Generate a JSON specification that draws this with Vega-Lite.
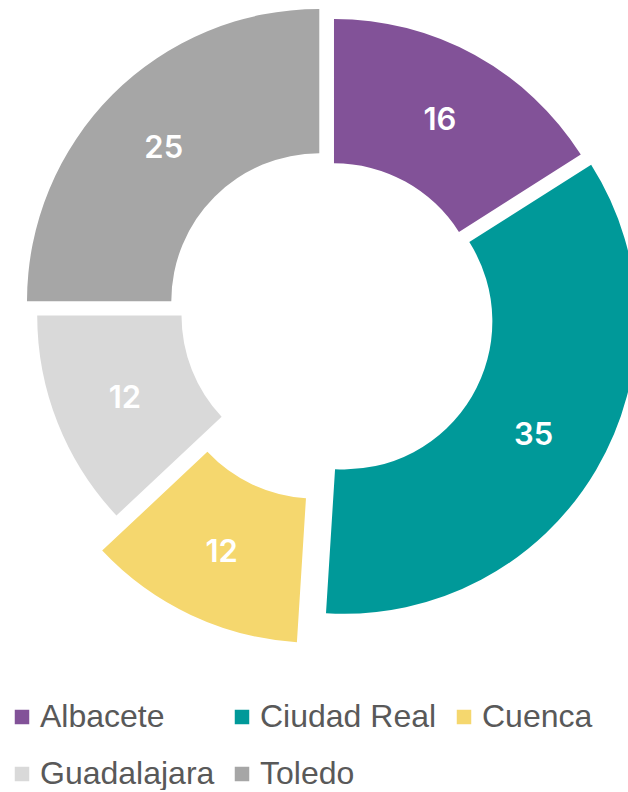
{
  "$schema": "https://vega.github.io/schema/vega-lite/v6.json",
  "width": 628,
  "height": 628,
  "padding": 0,
  "autosize": {"type": "pad"},
  "background": "white",
  "config": {"view": {"stroke": null}},
  "params": [
    {"name": "explode", "value": {"Albacete": 3.5, "Ciudad Real": 14, "Cuenca": 40, "Guadalajara": 3, "Toledo": 18.4}},
    {"name": "cx", "value": 332.3},
    {"name": "cy", "value": 314.3}
  ],
  "data": {
    "values": [
      {"provincia": "Albacete", "valor": 16},
      {"provincia": "Ciudad Real", "valor": 35},
      {"provincia": "Cuenca", "valor": 12},
      {"provincia": "Guadalajara", "valor": 12},
      {"provincia": "Toledo", "valor": 25}
    ]
  },
  "encoding": {
    "theta": {"field": "valor", "type": "quantitative", "stack": true},
    "order": {"field": "provincia", "type": "ordinal", "sort": "ascending"}
  },
  "layer": [
    {
      "mark": {
        "type": "arc",
        "outerRadius": 292.3,
        "innerRadius": 148,
        "x": {"expr": "cx + explode[datum.provincia] * sin((scale('theta', datum.valor_start) + scale('theta', datum.valor_end)) / 2)"},
        "y": {"expr": "cy - explode[datum.provincia] * cos((scale('theta', datum.valor_start) + scale('theta', datum.valor_end)) / 2)"}
      },
      "encoding": {
        "color": {
          "field": "provincia",
          "type": "nominal",
          "scale": {
            "domain": ["Albacete", "Ciudad Real", "Cuenca", "Guadalajara", "Toledo"],
            "range": ["#825298", "#009999", "#F5D76E", "#D9D9D9", "#A6A6A6"]
          },
          "legend": {
            "orient": "none",
            "legendX": 6,
            "legendY": 701,
            "direction": "horizontal",
            "columns": 3,
            "title": null,
            "symbolType": "square",
            "symbolSize": 210,
            "symbolStrokeWidth": 0,
            "labelFontSize": 32,
            "labelFont": "Liberation Sans",
            "labelColor": "#595959",
            "labelOffset": 2,
            "labelLimit": 400,
            "columnPadding": 11,
            "rowPadding": 25,
            "padding": 0
          }
        }
      }
    },
    {
      "mark": {
        "type": "text",
        "radius": 220,
        "dy": 3,
        "fill": "white",
        "font": "Inter",
        "fontSize": 31,
        "fontWeight": 600,
        "x": {"expr": "cx + explode[datum.provincia] * sin((scale('theta', datum.valor_start) + scale('theta', datum.valor_end)) / 2)"},
        "y": {"expr": "cy - explode[datum.provincia] * cos((scale('theta', datum.valor_start) + scale('theta', datum.valor_end)) / 2)"}
      },
      "encoding": {
        "text": {"field": "valor", "type": "quantitative"}
      }
    }
  ]
}
